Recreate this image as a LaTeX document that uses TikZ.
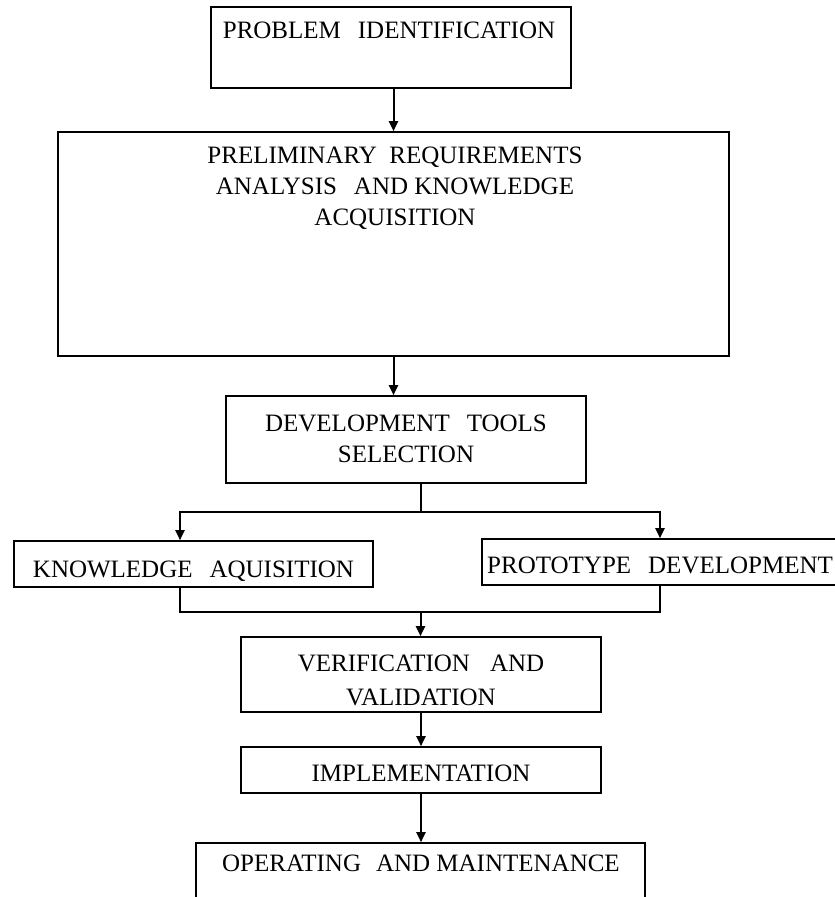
\documentclass[tikz,border=0pt]{standalone}
\usepackage{fontspec}
\setmainfont{Liberation Serif}
\usetikzlibrary{arrows.meta,calc}
% wide word space used in the box labels
\newcommand\wgap{\hspace{0.68em}}
\begin{document}
\begin{tikzpicture}[x=1pt,y=-1pt,
  box/.style={draw, line width=1.6pt, rectangle, inner sep=0pt},
  lbl/.style={inner sep=0pt, align=center, font=\fontsize{25}{31}\selectfont},
  link/.style={line width=2pt},
  arrow/.style={line width=2pt, -{Triangle[length=10pt,width=9pt]}}]
\useasboundingbox (0,0) rectangle (835,897);

% boxes (position by centre, size in px-like points)
\node[box, minimum width=360pt, minimum height=81pt]  (b1) at (391,47.5) {};
\node[box, minimum width=671pt, minimum height=224pt] (b2) at (393.5,244) {};
\node[box, minimum width=360pt, minimum height=87pt]  (b3) at (406,439.5) {};
\node[box, minimum width=359pt, minimum height=46pt]  (ka) at (193.5,564) {};
\node[box, minimum width=378pt, minimum height=46pt]  (pd) at (671,562) {};
\node[box, minimum width=360pt, minimum height=75pt]  (b6) at (421,674.5) {};
\node[box, minimum width=360pt, minimum height=46pt]  (b7) at (421,770) {};
\node[box, minimum width=449pt, minimum height=77pt]  (b8) at (420.5,881.5) {};

% labels
\node[lbl, anchor=base] (t1) at (389,38.3) {PROBLEM\wgap IDENTIFICATION};
\node[lbl, anchor=north] (t2) at (395,146.7)
  {PRELIMINARY\hspace{0.5em}REQUIREMENTS\\ANALYSIS\wgap AND KNOWLEDGE\\ACQUISITION};
\node[lbl, anchor=north] (t3) at (406,414.7) {DEVELOPMENT\wgap TOOLS\\SELECTION};
\node[lbl, anchor=base] (tka) at (193.5,577.3) {KNOWLEDGE\wgap AQUISITION};
\node[lbl, anchor=base west] (tpd) at (487,573.3) {PROTOTYPE\wgap DEVELOPMENT};
\node[lbl, anchor=north] (t6) at (421,654.7) {VERIFICATION\hspace{0.8em}AND\\[3pt]VALIDATION};
\node[lbl, anchor=base] (t7) at (421,781.3) {IMPLEMENTATION};
\node[lbl, anchor=base] (t8) at (421,871.3) {OPERATING\hspace{0.6em}AND MAINTENANCE};

% branch and merge points
\coordinate (split) at (420.5,511.5);
\coordinate (merge) at (420.5,612);
\coordinate (lx) at (180,0);
\coordinate (rx) at (660,0);

% connectors
\draw[arrow] (b2.north |- b1.south) -- (b2.north);
\draw[arrow] (b2.south) -- (b2.south |- b3.north);
\draw[link]  (b3.south -| split) -- (split);
\draw[arrow] (split) -| (lx |- ka.north);
\draw[arrow] (split) -| (rx |- pd.north);
\draw[link]  (lx |- ka.south) |- (rx |- merge) -- (rx |- pd.south);
\draw[arrow] (merge) -- (merge |- b6.north);
\draw[arrow] (b6.south) -- (b7.north);
\draw[arrow] (b7.south) -- (b7.south |- b8.north);
\end{tikzpicture}
\end{document}
